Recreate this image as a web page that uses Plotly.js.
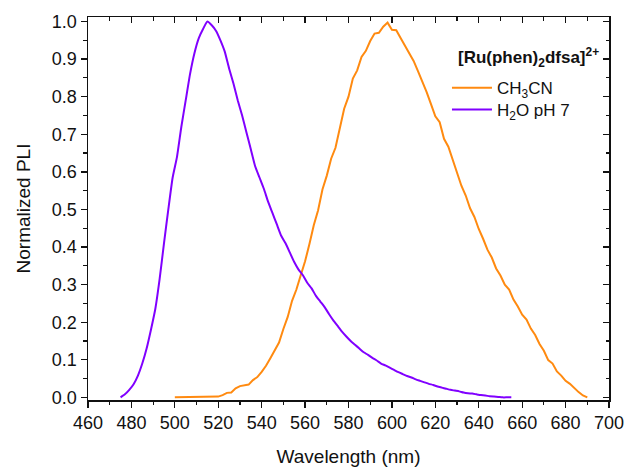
<!DOCTYPE html>
<html>
<head>
<meta charset="utf-8">
<script src="https://cdn.plot.ly/plotly-3.0.1.min.js"></script>
<style>
  html, body { margin: 0; padding: 0; background: #ffffff; }
  #plot { width: 628px; height: 467px; }
</style>
</head>
<body>
<div id="plot"></div>
<script>
// Emission spectra of [Ru(phen)2dfsa]2+ (normalized photoluminescence intensity)

// CH3CN solution
const wlCH3CN = [
  500, 502, 504, 506, 508, 510, 512, 514, 516, 518,
  520, 522, 524, 526, 528, 530, 532, 534, 536, 538,
  540, 542, 544, 546, 548, 550, 552, 554, 556, 558,
  560, 562, 564, 566, 568, 570, 572, 574, 576, 578,
  580, 582, 584, 586, 588, 590, 592, 594, 596, 598,
  600, 602, 604, 606, 608, 610, 612, 614, 616, 618,
  620, 622, 624, 626, 628, 630, 632, 634, 636, 638,
  640, 642, 644, 646, 648, 650, 652, 654, 656, 658,
  660, 662, 664, 666, 668, 670, 672, 674, 676, 678,
  680, 682, 684, 686, 688, 690
];
const pliCH3CN = [
  0.000, 0.000, 0.000, 0.000, 0.000, 0.000, 0.000, 0.000, 0.000, 0.000,
  0.002, 0.006, 0.012, 0.013, 0.024, 0.030, 0.033, 0.034, 0.046, 0.054,
  0.068, 0.084, 0.104, 0.127, 0.146, 0.182, 0.214, 0.257, 0.287, 0.325,
  0.362, 0.408, 0.458, 0.498, 0.553, 0.590, 0.635, 0.664, 0.715, 0.768,
  0.800, 0.848, 0.870, 0.906, 0.922, 0.948, 0.968, 0.970, 0.986, 0.997,
  0.978, 0.977, 0.956, 0.936, 0.913, 0.895, 0.868, 0.842, 0.812, 0.780,
  0.748, 0.732, 0.688, 0.667, 0.633, 0.602, 0.563, 0.537, 0.503, 0.480,
  0.448, 0.422, 0.393, 0.372, 0.343, 0.324, 0.300, 0.287, 0.260, 0.242,
  0.220, 0.207, 0.183, 0.166, 0.142, 0.124, 0.099, 0.090, 0.069, 0.058,
  0.044, 0.036, 0.024, 0.014, 0.005, 0.000
];

// Aqueous buffer, pH 7
const wlH2O = [
  475, 477, 479, 481, 483, 485, 487, 489, 491, 493,
  495, 497, 499, 501, 503, 505, 507, 509, 511, 513,
  515, 517, 519, 521, 523, 525, 527, 529, 531, 533,
  535, 537, 539, 541, 543, 545, 547, 549, 551, 553,
  555, 557, 559, 561, 563, 565, 567, 569, 571, 573,
  575, 577, 579, 581, 583, 585, 587, 589, 591, 593,
  595, 597, 599, 601, 603, 605, 607, 609, 611, 613,
  615, 617, 619, 621, 623, 625, 627, 629, 631, 633,
  635, 637, 639, 641, 643, 645, 647, 649, 651, 653,
  655
];
const pliH2O = [
  0.000, 0.008, 0.020, 0.035, 0.058, 0.090, 0.130, 0.180, 0.235, 0.315,
  0.410, 0.500, 0.585, 0.640, 0.720, 0.790, 0.860, 0.915, 0.955, 0.980,
  1.000, 0.990, 0.975, 0.950, 0.920, 0.875, 0.835, 0.790, 0.750, 0.705,
  0.660, 0.615, 0.585, 0.555, 0.520, 0.490, 0.460, 0.430, 0.410, 0.385,
  0.360, 0.340, 0.325, 0.305, 0.290, 0.270, 0.255, 0.240, 0.222, 0.205,
  0.190, 0.175, 0.162, 0.150, 0.140, 0.130, 0.120, 0.113, 0.105, 0.098,
  0.090, 0.085, 0.079, 0.073, 0.067, 0.062, 0.057, 0.053, 0.048, 0.044,
  0.040, 0.036, 0.033, 0.029, 0.026, 0.023, 0.020, 0.018, 0.016, 0.013,
  0.011, 0.010, 0.008, 0.006, 0.005, 0.003, 0.002, 0.001, 0.000, 0.000,
  0.000
];

const seriesNames = ['CH<sub>3</sub>CN', 'H<sub>2</sub>O pH 7'];
const legendTitle = '<b>[Ru(phen)<sub>2</sub>dfsa]<sup>2+</sup></b>';
const xTitle = 'Wavelength (nm)';
const yTitle = 'Normalized PLI';

const xRange = [460, 700];
const yRange = [-0.007, 1.012];

const FONT = 'Arial, "Liberation Sans", sans-serif';
const INK = '#111111';

const traces = [
  {
    x: wlCH3CN, y: pliCH3CN, name: seriesNames[0], legend: 'legend',
    type: 'scatter', mode: 'lines',
    line: { color: '#ff8a10', width: 2 }
  },
  {
    x: wlH2O, y: pliH2O, name: seriesNames[1], legend: 'legend2',
    type: 'scatter', mode: 'lines',
    line: { color: '#8000ff', width: 2, shape: 'spline', smoothing: 0.5 }
  },
  // empty trace that puts the top/right frame axes on the page
  {
    x: [], y: [], xaxis: 'x2', yaxis: 'y2',
    type: 'scatter', mode: 'lines', showlegend: false, hoverinfo: 'skip'
  }
];

const baseAxis = {
  showline: true, linecolor: INK, linewidth: 1.5,
  showgrid: false, zeroline: false,
  ticks: 'outside', ticklen: 6, tickwidth: 1.3, tickcolor: INK,
  tickfont: { family: FONT, size: 18, color: INK }
};

const legendBase = {
  xanchor: 'left', yanchor: 'middle',
  bgcolor: 'rgba(0,0,0,0)', borderwidth: 0,
  font: { family: FONT, size: 17, color: INK },
  itemwidth: 40
};

const layout = {
  width: 628, height: 467,
  margin: { l: 88, r: 19, t: 17, b: 67 },
  paper_bgcolor: '#ffffff', plot_bgcolor: '#ffffff',
  font: { family: FONT, color: INK },
  showlegend: true,
  legend: Object.assign({}, legendBase, { x: 0.689, y: 0.814 }),
  legend2: Object.assign({}, legendBase, { x: 0.689, y: 0.757 }),
  annotations: [{
    text: legendTitle, xref: 'paper', yref: 'paper',
    x: 0.706, y: 0.893, xanchor: 'left', yanchor: 'middle',
    showarrow: false, font: { family: FONT, size: 17, color: INK }
  }],
  xaxis: Object.assign({}, baseAxis, {
    range: xRange, dtick: 20, tick0: 460,
    minor: { dtick: 10, ticklen: 3.5, tickwidth: 1.2, tickcolor: INK, ticks: 'outside' },
    title: { text: xTitle, font: { family: FONT, size: 19, color: INK }, standoff: 25 }
  }),
  yaxis: Object.assign({}, baseAxis, {
    range: yRange, dtick: 0.1, tick0: 0, tickformat: '.1f',
    minor: { dtick: 0.05, ticklen: 3.5, tickwidth: 1.2, tickcolor: INK, ticks: 'outside' },
    title: { text: yTitle, font: { family: FONT, size: 19, color: INK }, standoff: 16 }
  }),
  // frame on top and right with inward ticks
  xaxis2: Object.assign({}, baseAxis, {
    overlaying: 'x', side: 'top', anchor: 'y2',
    range: xRange, dtick: 20, tick0: 460, ticks: 'inside', showticklabels: false,
    minor: { dtick: 10, ticklen: 3.5, tickwidth: 1.2, tickcolor: INK, ticks: 'inside' }
  }),
  yaxis2: Object.assign({}, baseAxis, {
    overlaying: 'y', side: 'right', anchor: 'x2',
    range: yRange, dtick: 0.1, tick0: 0, ticks: 'inside', showticklabels: false,
    minor: { dtick: 0.05, ticklen: 3.5, tickwidth: 1.2, tickcolor: INK, ticks: 'inside' }
  })
};

Plotly.newPlot('plot', traces, layout, { staticPlot: true, displayModeBar: false });
</script>
</body>
</html>
